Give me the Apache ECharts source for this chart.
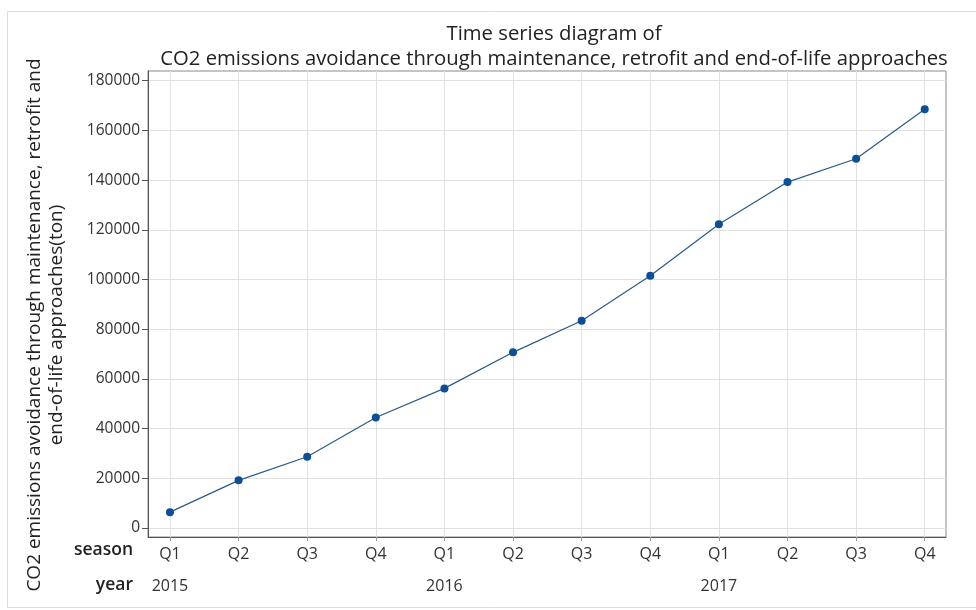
<!DOCTYPE html>
<html>
<head>
<meta charset="utf-8">
<script src="https://cdn.jsdelivr.net/npm/echarts@6/dist/echarts.min.js"></script>
<style>
html,body{margin:0;padding:0;background:#fff;}
#chart{width:976px;height:610px;}
</style>
</head>
<body>
<div id="chart"></div>
<script>
const seasons = ['Q1','Q2','Q3','Q4','Q1','Q2','Q3','Q4','Q1','Q2','Q3','Q4'];
const years = ['2015','','','','2016','','','','2017','','',''];
const emissions = [6400, 19200, 28700, 44500, 56200, 70700, 83400, 101500, 122200, 139200, 148600, 168500];
const yTicks = [0, 20000, 40000, 60000, 80000, 100000, 120000, 140000, 160000, 180000];

const xIdx = seasons.map((_, i) => i);
const FONT = '"Open Sans", "Noto Sans", sans-serif';

const chart = echarts.init(document.getElementById('chart'), null, {renderer: 'canvas'});
chart.setOption({
  backgroundColor: '#fff',
  animation: false,
  textStyle: {fontFamily: FONT},
  title: {
    text: 'Time series diagram of\nCO2 emissions avoidance through maintenance, retrofit and end-of-life approaches',
    left: 549, top: 17, textAlign: 'center',
    textStyle: {fontFamily: FONT, fontSize: 20.3, fontWeight: 'normal', color: '#222', lineHeight: 25}
  },
  grid: {
    left: 148, right: 30, top: 71, bottom: 73,
    show: true, borderColor: '#8a8a8a', borderWidth: 1, backgroundColor: '#fff'
  },
  xAxis: {
    type: 'value', min: -0.32, max: 11.31,
    axisLine: {show: true, onZero: false, lineStyle: {color: '#555'}},
    axisTick: {show: true, customValues: xIdx, length: 4, lineStyle: {color: '#999'}},
    splitLine: {show: true, lineStyle: {color: '#e2e2e2', width: 1}},
    axisLabel: {
      customValues: xIdx, margin: 2,
      formatter: v => { const i = Math.round(v); return '{q|' + seasons[i] + '}\n{y|' + (years[i] || ' ') + '}'; },
      rich: {
        q: {fontFamily: FONT, fontSize: 16, color: '#333', lineHeight: 30},
        y: {fontFamily: FONT, fontSize: 16, color: '#333', lineHeight: 34}
      }
    }
  },
  yAxis: {
    type: 'value', min: -3600, max: 183900,
    axisLine: {show: true, onZero: false, lineStyle: {color: '#555'}},
    axisTick: {show: true, customValues: yTicks, length: 6, lineStyle: {color: '#555'}},
    splitLine: {show: true, lineStyle: {color: '#e2e2e2', width: 1}},
    axisLabel: {customValues: yTicks, margin: 8, fontFamily: FONT, fontSize: 15.5, color: '#333', formatter: v => String(v)}
  },
  series: [{
    type: 'line',
    data: emissions.map((v, i) => [i, v]),
    symbol: 'circle', symbolSize: 8,
    itemStyle: {color: '#0b4f96'},
    lineStyle: {color: '#2a5a8a', width: 1.2}
  }],
  graphic: [
    {type: 'rect', shape: {x: 7.5, y: 11.5, width: 980, height: 596}, style: {fill: 'none', stroke: '#dcdcdc', lineWidth: 1}, z: -10, silent: true},
    {type: 'text', x: 46, y: 325, rotation: Math.PI / 2,
     style: {text: 'CO2 emissions avoidance through maintenance, retrofit and\nend-of-life approaches(ton)', align: 'center', verticalAlign: 'middle', fontFamily: FONT, fontSize: 19, fill: '#222', lineHeight: 22}},
    {type: 'text', x: 133, y: 550, style: {text: 'season', align: 'right', verticalAlign: 'middle', fontFamily: FONT, fontSize: 17.5, fontWeight: 600, fill: '#222'}},
    {type: 'text', x: 133, y: 585, style: {text: 'year', align: 'right', verticalAlign: 'middle', fontFamily: FONT, fontSize: 17.5, fontWeight: 600, fill: '#222'}}
  ]
});
</script>
</body>
</html>
